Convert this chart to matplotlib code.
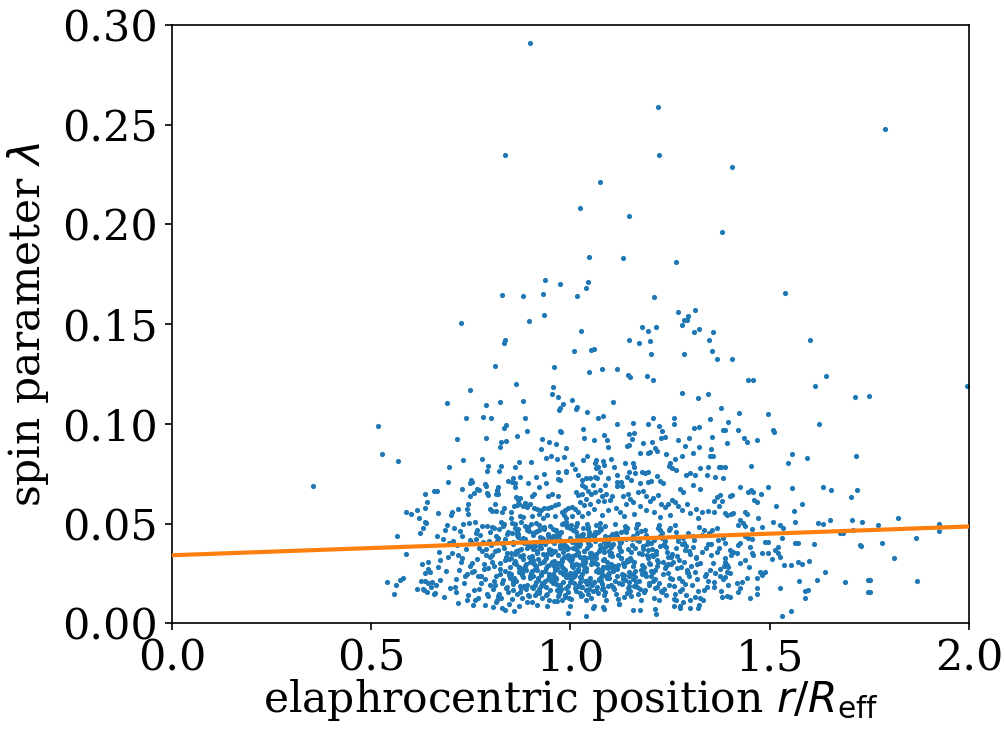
import numpy as np
import matplotlib
matplotlib.use("Agg")
import matplotlib.pyplot as plt

plt.rcParams['font.family'] = ['DejaVu Serif']
plt.rcParams['mathtext.fontset'] = 'dejavusans'

# ---------------- data ----------------
# sparse points above lambda = 0.1  (r/R_eff, lambda)
high_pts = [
    (0.899, 0.291), (1.219, 0.259), (1.790, 0.248), (0.835, 0.235), (1.221, 0.235),
    (1.406, 0.229), (1.074, 0.2215), (1.024, 0.2083), (1.147, 0.2043), (1.380, 0.1961),
    (1.046, 0.1835), (1.131, 0.1830), (1.265, 0.1811), (0.937, 0.1723), (0.974, 0.1702),
    (1.044, 0.1710), (1.040, 0.1682), (0.828, 0.1647), (0.881, 0.1640), (0.932, 0.1653),
    (1.016, 0.1640), (1.209, 0.1638), (1.538, 0.1655), (0.725, 0.1505), (0.896, 0.1516),
    (0.934, 0.1545), (1.270, 0.1563), (1.312, 0.1571), (1.295, 0.1541), (1.286, 0.1521),
    (1.292, 0.1521), (1.280, 0.1498), (1.027, 0.1465), (1.180, 0.1486), (1.194, 0.1466),
    (1.214, 0.1486), (1.311, 0.1459), (1.322, 0.1478), (1.358, 0.1463), (0.836, 0.1421),
    (0.834, 0.1406), (1.148, 0.1420), (1.172, 0.1404), (1.199, 0.1416), (1.348, 0.1423),
    (1.600, 0.1421), (1.009, 0.1366), (1.052, 0.1371), (1.058, 0.1374), (1.201, 0.1349),
    (1.285, 0.1349), (1.356, 0.1364), (1.367, 0.1326), (1.406, 0.1324), (0.810, 0.1292),
    (0.959, 0.1287), (1.047, 0.1261), (1.080, 0.1274), (1.116, 0.1276), (1.145, 0.1246),
    (1.149, 0.1234), (1.193, 0.1241), (1.206, 0.1219), (1.445, 0.1221), (1.459, 0.1221),
    (1.642, 0.1241), (1.613, 0.1190), (1.995, 0.1189), (0.747, 0.1169), (0.864, 0.1199),
    (0.956, 0.1187), (0.953, 0.1149), (0.970, 0.1137), (1.003, 0.1122), (1.107, 0.1109),
    (1.280, 0.1155), (1.320, 0.1130), (1.344, 0.1152), (1.715, 0.1134), (1.750, 0.1140),
    (0.689, 0.1107), (0.789, 0.1094), (0.824, 0.1110), (0.881, 0.1117), (0.981, 0.1099),
    (0.975, 0.1079), (0.972, 0.1069), (1.016, 0.1087), (1.015, 0.1074), (1.041, 0.1062),
    (1.377, 0.1079), (1.424, 0.1055), (1.496, 0.1052), (0.739, 0.1032), (0.781, 0.1037),
    (0.801, 0.1032), (0.886, 0.1030), (1.069, 0.1028), (1.082, 0.1040), (1.208, 0.1028),
    (1.259, 0.1028), (1.350, 0.1025),
]

# points left of r/R_eff = 0.66
left_pts = [
    (0.517, 0.0990), (0.528, 0.0851), (0.567, 0.0813), (0.353, 0.0689), (0.635, 0.0649),
    (0.641, 0.0611), (0.614, 0.0571), (0.635, 0.0577), (0.588, 0.0557), (0.600, 0.0550),
    (0.620, 0.0527), (0.658, 0.0666), (0.634, 0.0510), (0.637, 0.0505), (0.630, 0.0480),
    (0.622, 0.0455), (0.564, 0.0439), (0.587, 0.0348), (0.627, 0.0298), (0.642, 0.0307),
    (0.642, 0.0275), (0.635, 0.0252), (0.648, 0.0258), (0.540, 0.0206), (0.580, 0.0228),
    (0.572, 0.0216), (0.563, 0.0191), (0.556, 0.0148), (0.626, 0.0215), (0.634, 0.0215),
    (0.642, 0.0201), (0.652, 0.0208), (0.616, 0.0173), (0.630, 0.0173), (0.633, 0.0168),
    (0.639, 0.0156), (0.651, 0.0183), (0.658, 0.0148),
]

# band 0.052 < lambda < 0.102, 0.66 < r/R_eff < 1.39
mid_pts = [
    (0.839, 0.0995), (0.833, 0.0980), (0.892, 0.0963), (0.975, 0.0966), (0.976, 0.0958),
    (0.715, 0.0925), (0.787, 0.0931), (0.826, 0.0910), (0.839, 0.0915), (0.822, 0.0885),
    (0.867, 0.0942), (0.928, 0.0923), (0.946, 0.0908), (0.964, 0.0901), (0.925, 0.0875),
    (0.990, 0.0881), (0.938, 0.0831), (0.951, 0.0840), (0.967, 0.0826), (0.984, 0.0836),
    (0.730, 0.0818), (0.779, 0.0825), (0.794, 0.0789), (0.791, 0.0764), (0.826, 0.0788),
    (0.821, 0.0763), (0.862, 0.0783), (0.870, 0.0810), (0.902, 0.0811), (0.696, 0.0786),
    (1.004, 0.0801), (1.011, 0.0774), (0.988, 0.0764), (0.990, 0.0758), (1.019, 0.0744),
    (0.969, 0.0761), (0.969, 0.0724), (0.975, 0.0718), (0.934, 0.0749), (0.913, 0.0736),
    (0.874, 0.0733), (0.693, 0.0709), (0.751, 0.0720), (0.748, 0.0704), (0.754, 0.0709),
    (0.785, 0.0699), (0.788, 0.0691), (0.729, 0.0674), (0.766, 0.0676), (0.770, 0.0669),
    (0.758, 0.0656), (0.747, 0.0639), (0.791, 0.0654), (0.794, 0.0643), (0.819, 0.0683),
    (0.815, 0.0668), (0.813, 0.0651), (0.817, 0.0648), (0.844, 0.0713), (0.856, 0.0728),
    (0.854, 0.0711), (0.862, 0.0704), (0.862, 0.0683), (0.893, 0.0706), (0.922, 0.0683),
    (0.938, 0.0703), (0.903, 0.0639), (0.908, 0.0651), (0.864, 0.0634), (0.874, 0.0631),
    (0.868, 0.0621), (0.943, 0.0641), (0.954, 0.0648), (0.969, 0.0637), (1.013, 0.0658),
    (1.018, 0.0644), (0.664, 0.0664), (0.811, 0.0599), (0.798, 0.0572), (0.804, 0.0565),
    (0.813, 0.0565), (0.744, 0.0599), (0.740, 0.0574), (0.743, 0.0549), (0.717, 0.0574),
    (0.703, 0.0557), (0.700, 0.0544), (0.667, 0.0554), (0.833, 0.0577), (0.827, 0.0560),
    (0.852, 0.0560), (0.858, 0.0589), (0.866, 0.0595), (0.872, 0.0600), (0.880, 0.0590),
    (0.886, 0.0605), (0.890, 0.0585), (0.898, 0.0598), (0.909, 0.0580), (0.917, 0.0575),
    (0.925, 0.0568), (0.934, 0.0577), (0.944, 0.0580), (0.952, 0.0585), (0.962, 0.0592),
    (0.970, 0.0600), (0.978, 0.0560), (0.986, 0.0568), (0.995, 0.0580), (1.003, 0.0585),
    (1.011, 0.0572), (1.020, 0.0560), (0.873, 0.0540), (0.882, 0.0535), (0.903, 0.0540),
    (0.920, 0.0548), (0.941, 0.0542), (0.962, 0.0538), (0.983, 0.0542), (1.004, 0.0540),
    (0.850, 0.0530), (0.930, 0.0528), (0.990, 0.0530),
    (1.032, 0.0975), (1.034, 0.0928), (1.059, 0.0918), (1.085, 0.0947), (1.091, 0.0920),
    (1.095, 0.0886), (1.117, 0.1000), (1.158, 0.1007), (1.147, 0.0950), (1.159, 0.0953),
    (1.155, 0.0923), (1.143, 0.0891), (1.148, 0.0896), (1.181, 0.0903), (1.195, 0.1000),
    (1.222, 0.0992), (1.229, 0.0965), (1.227, 0.0928), (1.237, 0.0937), (1.205, 0.0911),
    (1.212, 0.0881), (1.218, 0.0865), (1.199, 0.0861), (1.195, 0.0853), (1.174, 0.0853),
    (1.261, 0.1000), (1.271, 0.0920), (1.288, 0.0891), (1.298, 0.0928), (1.310, 0.0978),
    (1.322, 0.0987), (1.355, 0.0937), (1.384, 0.0972), (1.323, 0.0886), (1.352, 0.0876),
    (1.307, 0.0856), (1.042, 0.0840), (1.031, 0.0821), (1.065, 0.0820), (1.061, 0.0803),
    (1.070, 0.0786), (1.082, 0.0815), (1.084, 0.0795), (1.103, 0.0823), (1.064, 0.0781),
    (1.074, 0.0761), (1.061, 0.0736), (1.049, 0.0728), (1.040, 0.0728), (1.030, 0.0720),
    (1.028, 0.0694), (1.057, 0.0694), (1.067, 0.0728), (1.087, 0.0694), (1.095, 0.0728),
    (1.110, 0.0786), (1.116, 0.0745), (1.118, 0.0711), (1.128, 0.0711), (1.130, 0.0690),
    (1.116, 0.0690), (1.137, 0.0806), (1.158, 0.0806), (1.160, 0.0786), (1.162, 0.0753),
    (1.153, 0.0720), (1.148, 0.0761), (1.141, 0.0736), (1.179, 0.0761), (1.187, 0.0753),
    (1.195, 0.0758), (1.202, 0.0714), (1.195, 0.0711), (1.216, 0.0739), (1.225, 0.0714),
    (1.233, 0.0703), (1.174, 0.0703), (1.240, 0.0848), (1.248, 0.0791), (1.251, 0.0803),
    (1.256, 0.0778), (1.263, 0.0825), (1.266, 0.0770), (1.279, 0.0837), (1.291, 0.0744),
    (1.300, 0.0753), (1.312, 0.0744), (1.325, 0.0778), (1.346, 0.0786), (1.350, 0.0837),
    (1.358, 0.0837), (1.373, 0.0786), (1.379, 0.0786), (1.383, 0.0728), (1.363, 0.0736),
    (1.342, 0.0745), (1.275, 0.0676), (1.283, 0.0660), (1.308, 0.0693), (1.325, 0.0676),
    (1.367, 0.0636), (1.375, 0.0644),
    (1.036, 0.0683), (1.045, 0.0666), (1.052, 0.0650), (1.030, 0.0650), (1.040, 0.0625),
    (1.062, 0.0660), (1.075, 0.0668), (1.078, 0.0640), (1.090, 0.0650), (1.100, 0.0620),
    (1.105, 0.0640), (1.085, 0.0612), (1.068, 0.0615), (1.050, 0.0600), (1.035, 0.0595),
    (1.025, 0.0610), (1.132, 0.0640), (1.145, 0.0650), (1.150, 0.0625), (1.158, 0.0610),
    (1.140, 0.0600), (1.170, 0.0660), (1.182, 0.0665), (1.190, 0.0640), (1.200, 0.0615),
    (1.208, 0.0630), (1.220, 0.0645), (1.227, 0.0600), (1.237, 0.0585), (1.245, 0.0600),
    (1.255, 0.0620), (1.262, 0.0610), (1.270, 0.0590), (1.280, 0.0570), (1.292, 0.0600),
    (1.300, 0.0555), (1.315, 0.0575), (1.330, 0.0560), (1.345, 0.0565), (1.360, 0.0560),
    (1.372, 0.0590), (1.380, 0.0612), (1.360, 0.0615), (1.115, 0.0580), (1.125, 0.0560),
    (1.095, 0.0570), (1.060, 0.0575), (1.045, 0.0555), (1.175, 0.0590), (1.190, 0.0570),
    (1.210, 0.0560), (1.160, 0.0550), (1.135, 0.0540), (1.080, 0.0545), (1.030, 0.0540),
    (1.250, 0.0545), (1.320, 0.0530), (1.225, 0.0535),
]

# dense core, lambda < 0.052: r/R_eff in 1e-3, lambda in 1e-4
core_pts = [
    (662,195),(668,285),(673,218),(673,318),(660,151),(671,360),(679,425),(684,470),(688,262),(692,335),
    (695,405),(698,178),(683,132),(690,495),(666,440),
    (719,101),(744,143),(714,159),(703,352),(708,478),(712,225),(716,395),(720,268),(725,310),(729,440),
    (733,205),(738,372),(741,250),(746,505),(749,290),(705,415),(710,185),(722,465),(727,330),(735,238),
    (740,120),(731,500),(747,420),(718,345),
    (756,93),(760,118),(769,126),(785,93),(752,305),(758,168),(763,452),(767,238),(771,380),(775,205),
    (779,488),(783,272),(787,342),(791,150),(795,415),(798,195),(754,402),(757,262),(761,510),(766,322),
    (770,175),(774,445),(778,362),(782,298),(786,225),(790,490),(794,140),(797,335),(753,260),(765,470),
    (780,410),(788,372),(799,460),(792,280),(776,240),(762,425),
    (806,85),(815,118),(827,76),(836,68),(845,96),(802,345),(805,172),(809,480),(812,240),(816,415),
    (819,138),(823,305),(826,510),(829,205),(833,380),(836,265),(840,450),(843,160),(846,325),(849,230),
    (803,485),(807,290),(810,195),(814,440),(817,370),(821,150),(824,275),(828,405),(831,220),(834,500),
    (838,335),(841,185),(844,460),(847,255),(801,395),(804,310),(808,215),(811,365),(818,430),(822,250),
    (825,130),(832,490),(839,180),(848,285),(842,355),(835,425),(813,110),(830,400),(846,245),(820,475),
    (837,320),
    (858,63),(879,129),(890,110),(872,88),(853,122),
    (855,398),(857,205),(860,480),(862,315),(865,150),(867,443),(870,260),(872,370),(875,178),(877,507),
    (880,232),(882,342),(885,425),(887,288),(890,195),(892,470),(895,333),(897,140),(899,388),
    (851,250),(854,452),(856,168),(859,305),(861,497),(864,215),(866,360),(869,435),(871,282),(874,160),
    (876,415),(878,243),(881,325),(883,188),(886,490),(888,270),(891,380),(893,145),(896,462),(898,227),
    (852,353),(855,200),(857,408),(863,298),(868,474),(873,337),(879,255),(884,420),(889,172),(894,392),
    (899,310),
    (853,502),(858,230),(863,365),(868,447),(873,190),(878,275),(883,405),(888,300),(893,485),(898,240),
    (852,330),(857,215),(862,350),(867,460),(872,280),(877,375),(882,430),(887,190),
    (903,110),(911,143),(928,126),(915,95),(940,88),(945,118),
    (901,330),(903,185),(905,455),(907,240),(909,395),(911,275),(913,505),(915,160),(917,365),(919,220),
    (921,470),(923,305),(925,190),(927,420),(929,260),(931,350),(933,485),(935,215),(937,400),(939,145),
    (941,290),(943,440),(945,235),(947,375),(949,170),
    (902,500),(904,265),(906,320),(908,410),(910,195),(912,460),(914,285),(916,355),(918,230),(920,495),
    (922,175),(924,385),(926,250),(928,430),(930,310),(932,200),(934,475),(936,345),(938,280),(940,150),
    (942,415),(944,225),(946,370),(948,490),
    (901,255),(903,340),(905,180),(907,445),(909,300),(911,390),(913,210),(915,465),(917,270),(919,325),
    (921,155),(923,435),(925,245),(927,380),(929,205),(931,480),(933,315),(935,265),(937,410),(939,185),
    (941,350),(943,450),(945,230),(947,295),(949,360),
    (906,375),(914,290),(922,165),(930,425),(938,330),(946,250),(924,400),
    (952,355),(957,220),(963,470),(968,140),(974,395),(979,285),(985,505),(990,180),(996,330),
    (951,425),(956,250),(961,365),(966,115),(972,445),(977,295),(982,210),(988,390),(993,160),(998,480),
    (953,310),(958,240),(964,435),(969,345),(975,195),(980,500),(986,270),(991,375),(997,130),
    (954,415),(959,300),(965,230),(970,455),(976,175),(981,360),(987,265),(992,490),(999,320),
    (955,205),(960,405),(966,280),(971,150),(977,460),(983,335),(989,245),(994,380),
    (950,215),(956,475),(962,290),(967,170),(973,420),(978,325),(984,255),(990,495),(995,190),
    (951,350),(957,440),(963,225),(968,305),(974,165),(980,410),(985,275),(991,485),(996,235),
    (952,370),(958,315),(964,200),(970,450),(975,260),(981,385),(987,145),(992,340),(998,430),
    (953,220),(959,300),(965,465),(971,180),(977,395),(982,250),(988,510),(994,330),(999,210),
    (955,360),(961,270),(967,445),(972,190),(978,315),(984,400),(989,235),(995,345),(960,290),(975,380),
    (1003,290),(1008,415),(1014,165),(1019,360),(1025,235),(1031,480),(1036,310),(1042,200),(1047,445),
    (1001,125),(1006,380),(1012,260),(1017,505),(1023,335),(1028,185),(1034,425),(1039,280),(1045,150),(1049,395),
    (1002,225),(1007,470),(1013,300),(1018,350),(1024,210),(1030,435),(1035,270),(1041,500),(1046,175),
    (1004,325),(1009,240),(1015,460),(1021,390),(1026,140),(1032,305),(1037,215),(1043,485),(1048,355),
    (1000,255),(1005,410),(1011,180),(1016,440),(1022,295),(1027,230),(1033,365),(1038,120),(1044,475),
    (1003,340),(1008,205),(1014,400),(1020,265),(1025,155),(1031,450),(1036,310),(1042,380),(1047,220),
    (1001,495),(1006,285),(1012,345),(1018,190),(1023,420),(1029,250),(1034,365),(1040,170),(1045,430),
    (1002,315),(1007,235),(1013,490),(1019,275),(1024,400),(1030,145),(1035,335),(1041,215),(1046,460),
    (1004,300),(1010,255),(1015,375),(1021,195),(1027,445),(1032,320),(1038,265),(1043,405),(1049,230),
    (1009,470),(1017,350),(1026,185),(1035,290),(1044,415),(1012,245),(1039,330),
    (1053,340),(1058,210),(1064,455),(1069,155),(1075,395),(1080,270),(1086,490),(1091,230),(1097,365),
    (1051,130),(1056,425),(1062,305),(1067,185),(1073,470),(1078,250),(1084,360),(1089,120),(1095,410),(1099,290),
    (1052,200),(1057,445),(1063,330),(1068,265),(1074,505),(1079,175),(1085,380),(1090,240),(1096,435),
    (1054,315),(1059,90),(1065,350),(1071,220),(1076,475),(1082,285),(1087,160),(1093,400),(1098,255),
    (1050,335),(1055,195),(1061,460),(1066,300),(1072,225),(1077,385),(1083,145),(1088,420),(1094,280),
    (1053,345),(1058,210),(1064,495),(1070,260),(1075,375),(1081,180),(1086,440),(1092,310),(1097,230),
    (1051,355),(1057,165),(1062,415),(1068,275),(1073,480),(1079,200),(1084,325),(1090,390),(1095,250),
    (1052,300),(1059,440),(1065,170),(1071,365),(1077,235),(1083,410),(1089,285),(1094,190),
    (1056,345),(1063,265),(1070,460),(1076,215),(1082,320),(1088,395),(1093,240),
    (1103,300),(1109,175),(1116,440),(1122,98),(1128,365),(1134,245),(1141,480),(1147,210),
    (1102,395),(1108,285),(1114,150),(1121,420),(1127,330),(1133,230),(1139,460),(1146,190),
    (1101,355),(1107,270),(1113,500),(1119,125),(1126,410),(1132,305),(1138,220),(1144,375),(1149,165),
    (1104,450),(1110,290),(1117,240),(1123,385),(1129,200),(1136,470),(1142,320),(1148,260),
    (1100,345),(1106,185),(1112,430),(1118,275),(1125,405),(1131,235),(1137,490),(1143,155),
    (1105,340),(1111,215),(1115,455),(1120,295),(1124,370),(1130,250),(1135,135),(1140,425),(1145,315),
    (1103,195),(1108,400),(1113,280),(1119,345),(1126,460),(1132,225),(1139,310),(1144,180),
    (1101,385),(1107,265),(1114,435),(1121,205),(1128,330),(1134,290),(1141,480),(1147,240),
    (1153,320),(1160,190),(1167,455),(1174,68),(1181,375),(1188,255),(1195,410),
    (1151,140),(1158,290),(1165,480),(1172,215),(1179,350),(1186,170),(1193,430),(1199,300),
    (1155,395),(1162,235),(1169,500),(1176,120),(1183,275),(1190,445),(1197,205),
    (1152,360),(1159,310),(1166,185),(1173,415),(1180,250),(1187,470),(1194,330),
    (1156,225),(1163,380),(1170,150),(1177,465),(1184,285),(1191,345),(1198,195),
    (1154,425),(1161,265),(1168,500),(1175,175),(1182,390),(1189,240),(1196,305),
    (1157,440),(1164,210),(1171,355),(1178,270),(1185,160),(1192,400),
    (1150,330),(1158,250),(1167,420),(1180,295),(1194,370),
    (1203,265),(1211,180),(1218,290),(1226,440),(1234,175),(1242,360),(1249,230),
    (1201,405),(1209,130),(1216,320),(1224,470),(1232,250),(1240,385),(1247,195),
    (1205,345),(1213,270),(1221,495),(1229,160),(1237,415),(1245,300),
    (1207,215),(1214,365),(1222,120),(1230,455),(1238,280),(1246,335),
    (1202,240),(1210,420),(1217,185),(1225,390),(1233,310),(1241,145),(1248,470),
    (1206,260),(1214,350),(1223,205),(1231,430),(1239,290),
    (1204,375),(1212,225),(1220,480),(1228,165),(1236,395),(1244,255),
    (1208,340),(1219,310),(1235,400),
    (1253,300),(1262,150),(1270,430),(1279,215),(1287,370),(1296,255),
    (1251,480),(1259,190),(1268,340),(1276,90),(1285,405),(1293,270),
    (1256,225),(1264,460),(1273,320),(1281,175),(1290,390),(1298,240),
    (1254,350),(1261,125),(1271,415),(1278,285),(1288,200),(1295,455),
    (1258,310),(1266,380),(1275,165),(1283,430),(1292,260),
    (1252,335),(1263,495),(1272,230),(1280,400),(1289,145),(1297,365),
    (1267,280),(1284,310),
    (1302,290),(1311,420),(1320,165),(1329,360),(1338,240),(1347,455),(1305,195),(1314,330),(1323,485),
    (1332,120),(1341,380),(1349,270),(1308,440),(1317,225),(1326,305),(1335,170),(1344,400),(1301,350),
    (1313,260),(1324,130),(1336,470),(1345,215),(1307,385),(1318,300),(1330,445),(1342,185),(1315,335),
    (1339,250),
    (1353,345),(1361,210),(1370,420),(1378,165),(1386,290),(1356,470),(1364,255),(1373,380),(1381,135),
    (1388,330),(1352,400),(1360,185),(1368,480),(1376,275),(1384,225),(1358,305),(1367,360),(1375,240),
    (1383,430),
]

# lowest points of the core
low_pts = [
    (0.995, 0.0051), (0.999, 0.0088), (0.959, 0.0115), (0.978, 0.0118), (0.986, 0.0135),
    (1.040, 0.0039), (1.056, 0.0076), (1.082, 0.0084), (1.084, 0.0071), (1.122, 0.0098),
    (1.158, 0.0068), (1.212, 0.0071), (1.214, 0.0048), (1.260, 0.0088), (1.275, 0.0076),
    (1.300, 0.0076), (1.321, 0.0076), (1.322, 0.0093), (1.300, 0.0118), (1.283, 0.0110),
    (1.266, 0.0118), (1.312, 0.0131),
]

# points right of r/R_eff = 1.39 (lambda < 0.102)
right_pts = [
    (1.396, 0.1012), (1.388, 0.0970), (1.421, 0.0970), (1.436, 0.0931), (1.442, 0.0911),
    (1.467, 0.0920), (1.509, 0.0970), (1.512, 0.0962), (1.624, 0.1000), (1.392, 0.0903),
    (1.388, 0.0786), (1.453, 0.0790), (1.557, 0.0848), (1.545, 0.0803), (1.593, 0.0828),
    (1.716, 0.0841), (1.425, 0.0686), (1.453, 0.0669), (1.446, 0.0657), (1.459, 0.0661),
    (1.478, 0.0647), (1.400, 0.0639), (1.406, 0.0644), (1.496, 0.0686), (1.555, 0.0681),
    (1.634, 0.0686), (1.654, 0.0669), (1.720, 0.0671), (1.704, 0.0636), (1.461, 0.0619),
    (1.467, 0.0611), (1.515, 0.0589), (1.580, 0.0599), (1.561, 0.0564), (1.388, 0.0552),
    (1.392, 0.0544), (1.403, 0.0549), (1.409, 0.0552), (1.438, 0.0561), (1.442, 0.0547),
    (1.471, 0.0527), (1.823, 0.0527),
    (1.425, 0.0519), (1.434, 0.0505), (1.421, 0.0494), (1.438, 0.0489), (1.455, 0.0472),
    (1.480, 0.0482), (1.509, 0.0510), (1.526, 0.0494), (1.534, 0.0477), (1.563, 0.0510),
    (1.622, 0.0505), (1.634, 0.0499), (1.651, 0.0519), (1.706, 0.0519), (1.731, 0.0510),
    (1.388, 0.0402), (1.400, 0.0368), (1.409, 0.0360), (1.417, 0.0352), (1.404, 0.0343),
    (1.421, 0.0393), (1.425, 0.0402), (1.446, 0.0427), (1.455, 0.0422), (1.438, 0.0439),
    (1.450, 0.0385), (1.455, 0.0352), (1.459, 0.0343), (1.480, 0.0352), (1.488, 0.0410),
    (1.497, 0.0410), (1.497, 0.0352), (1.513, 0.0368), (1.522, 0.0385), (1.522, 0.0352),
    (1.526, 0.0335), (1.530, 0.0427), (1.563, 0.0402), (1.572, 0.0402), (1.612, 0.0399),
    (1.676, 0.0452), (1.685, 0.0452), (1.710, 0.0469), (1.726, 0.0393), (1.729, 0.0389),
    (1.388, 0.0310), (1.392, 0.0293), (1.396, 0.0285), (1.392, 0.0260), (1.400, 0.0251),
    (1.388, 0.0235), (1.425, 0.0302), (1.438, 0.0318), (1.448, 0.0285), (1.476, 0.0260),
    (1.488, 0.0256), (1.480, 0.0243), (1.467, 0.0226), (1.442, 0.0226), (1.430, 0.0210),
    (1.417, 0.0201), (1.396, 0.0193), (1.425, 0.0176), (1.421, 0.0160), (1.392, 0.0138),
    (1.400, 0.0131), (1.450, 0.0126), (1.467, 0.0176), (1.467, 0.0148), (1.505, 0.0322),
    (1.537, 0.0293), (1.553, 0.0293), (1.572, 0.0310), (1.580, 0.0297), (1.599, 0.0315),
    (1.639, 0.0260), (1.573, 0.0213), (1.526, 0.0176), (1.588, 0.0163), (1.595, 0.0170),
    (1.588, 0.0128), (1.620, 0.0218), (1.689, 0.0210), (1.747, 0.0218), (1.747, 0.0160),
    (1.553, 0.0064), (1.532, 0.0038),
    (1.773, 0.0494), (1.926, 0.0499), (1.925, 0.0465), (1.783, 0.0405), (1.867, 0.0430),
    (1.811, 0.0330), (1.752, 0.0218), (1.752, 0.0158), (1.869, 0.0213),
]

# linear fit  lambda = fit_intercept + fit_slope * r/R_eff
fit_intercept = 0.0342
fit_slope = 0.0072

# ---------------- assemble ----------------
xs = [p[0] for p in high_pts + left_pts + mid_pts + low_pts + right_pts]
ys = [p[1] for p in high_pts + left_pts + mid_pts + low_pts + right_pts]
xs += [p[0] / 1000.0 for p in core_pts]
ys += [p[1] / 10000.0 for p in core_pts]

fig = plt.figure(figsize=(10.05, 7.36), dpi=100)
ax = fig.add_axes([0.1711, 0.1529, 0.7930, 0.8132])

ax.scatter(xs, ys, s=14, color='#1f77b4', linewidths=0, zorder=2)

ax.set_xlim(0, 2)
ax.set_ylim(0, 0.30)
lx = np.array(ax.get_xlim())
ax.plot(lx, fit_intercept + fit_slope * lx, color='#ff7f0e', lw=3.0, zorder=3)

ax.set_xticks([0.0, 0.5, 1.0, 1.5, 2.0])
ax.set_yticks([0.00, 0.05, 0.10, 0.15, 0.20, 0.25, 0.30])
ax.set_xticklabels(['0.0', '0.5', '1.0', '1.5', '2.0'])
ax.set_yticklabels(['0.00', '0.05', '0.10', '0.15', '0.20', '0.25', '0.30'])
ax.tick_params(labelsize=31, length=5.2, width=1.2, pad=5)
for sp in ax.spines.values():
    sp.set_linewidth(1.2)

ax.set_xlabel(r'elaphrocentric position $r/R_{\mathrm{eff}}$', fontsize=30.5, labelpad=-2)
ax.set_ylabel(r'spin parameter $\lambda$', fontsize=30.5, labelpad=8)

fig.savefig('out.png', dpi=100)
